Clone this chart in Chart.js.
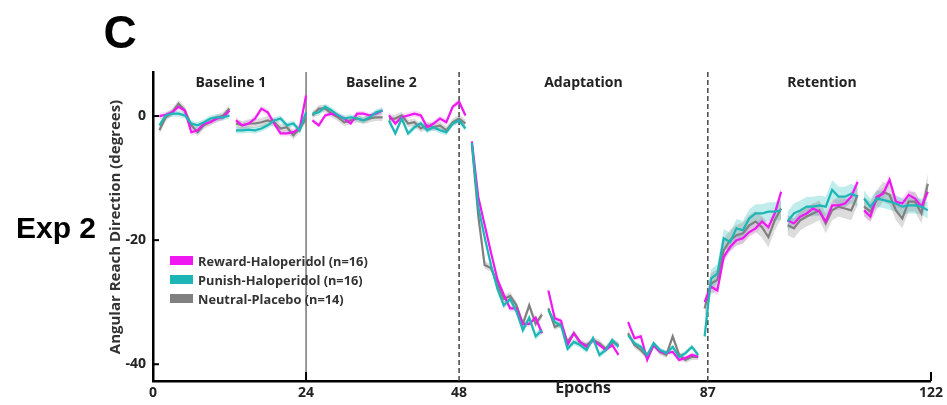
<!DOCTYPE html>
<html>
<head>
<meta charset="utf-8">
<script src="https://cdn.jsdelivr.net/npm/chart.js@4.4.0/dist/chart.umd.min.js"></script>
<style>
  html, body { margin: 0; background: #fff; }
  #wrap { width: 947px; height: 405px; }
</style>
</head>
<body>
<div id="wrap"><canvas id="chart" width="947" height="405"></canvas></div>
<script>
// Epoch of every plotted point; null marks a break between blocks
const epochs = [
  1, 2, 3, 4, 5, 6, 7, 8, 9, 10, 11, 12, null,
  13, 14, 15, 16, 17, 18, 19, 20, 21, 22, 23, 24, null,
  25, 26, 27, 28, 29, 30, 31, 32, 33, 34, 35, 36, null,
  37, 38, 39, 40, 41, 42, 43, 44, 45, 46, 47, 48, 49, null,
  50, 51, 52, 53, 54, 55, 56, 57, 58, 59, 60, 61, null,
  62, 63, 64, 65, 66, 67, 68, 69, 70, 71, 72, 73, null,
  74.5, 75.5, 76.5, 77.5, 78.5, 79.5, 80.5, 81.5, 82.5, 83.5, 84.5, 85.5, null,
  86.5, 87.5, 88.5, 89.5, 90.5, 91.5, 92.5, 93.5, 94.5, 95.5, 96.5, 97.5, 98.5, null,
  99.5, 100.5, 101.5, 102.5, 103.5, 104.5, 105.5, 106.5, 107.5, 108.5, 109.5, 110.5, null,
  111.5, 112.5, 113.5, 114.5, 115.5, 116.5, 117.5, 118.5, 119.5, 120.5, 121.5
];

const reward = [
  0, 0.2, 0.6, 1.5, 0.9, -2.6, -2.3, -1.2, -1.0, -0.4, -0.2, 0.9, null,
  -0.7, -1.5, -1.2, -0.4, 1.2, 0.6, -1.2, -2.8, -2.8, -2.6, -2.0, 3.3, null,
  -0.7, -1.5, 0.1, 0.4, 0.1, -0.4, -1.2, 0.4, 0.4, 0.1, 0.4, 0.9, null,
  0.1, -1.2, -0.2, 0.1, 0.4, 0.1, -1.8, -1.2, -0.4, -1.0, 1.5, 2.3, 0.1, null,
  -4.1, -13, -17.5, -22, -26.3, -28.8, -31, -31, -33.5, -33.5, -32.5, -35, null,
  -28.1, -32.6, -33, -36.9, -35, -36.4, -37.2, -36.1, -36.9, -37.7, -36.9, -38.5, null,
  -33.2, -35.8, -35.5, -39.3, -36.9, -38, -38.2, -38, -39.3, -39, -38.5, -38.8, null,
  -30, -27.5, -28.1, -22.7, -21.1, -20, -19.7, -18.7, -18.1, -17, -17.9, -15.7, -12.2, null,
  -16.8, -17.3, -16.2, -15.7, -14.9, -15.4, -17.0, -14.4, -14.4, -14.1, -13.0, -10.6, null,
  -15.2, -16.2, -13.0, -12.5, -10.3, -13.8, -14.1, -12.7, -13.3, -14.6, -12.2
];

const punish = [
  -1.5, 0.1, 0.4, 0.4, 0.1, -1.2, -1.5, -1.0, -0.4, -0.2, -0.2, 0.1, null,
  -2.3, -2.3, -2.2, -2.3, -2.0, -1.5, -0.7, -0.4, -1.5, -1.2, -2.3, 0.6, null,
  0.4, 0.6, 1.5, 0.9, 0.1, -0.4, -0.2, -0.4, -0.7, -0.2, 0.6, 0.9, null,
  -0.7, -2.8, -0.4, -2.8, -1.8, -1.2, -2.3, -1.8, -2.3, -2.6, -1.2, -0.7, -2.0, null,
  -4.3, -14.6, -19.5, -24, -27.8, -30.5, -29.5, -31.5, -34.5, -32.5, -35.5, -34.5, null,
  -31.3, -33.2, -33.8, -37.5, -36.4, -36.9, -37.7, -35.8, -38.5, -37.7, -36.1, -37.2, null,
  -35.3, -36.6, -37.2, -38.5, -36.6, -37.7, -38.2, -37.2, -38.8, -38.2, -37.2, -38.5, null,
  -35.5, -26.2, -25.4, -19.7, -20.3, -18.1, -18.4, -16.5, -15.7, -15.7, -15.4, -15.4, -15.2, null,
  -17, -15.7, -15.2, -14.6, -14.6, -14.4, -14.6, -11.9, -13, -13, -12.5, -13, null,
  -13.3, -14.6, -13.3, -13.5, -13.8, -14.1, -14.6, -14.4, -14.4, -14.6, -15.2
];

const neutral = [
  -2.3, -0.2, 0.6, 2.0, 0.9, -1.5, -2.6, -1.5, -0.9, -0.4, 0.1, 1.2, null,
  -1.2, -1.5, -1.2, -1.2, -1.0, -0.7, -1.0, -2.0, -1.8, -3.1, -2.0, -0.4, null,
  0.1, 1.2, 1.2, 0.4, -0.2, -1.0, -0.7, -0.4, -0.7, -0.4, -0.2, -0.2, null,
  -0.4, -0.4, 0.1, -1.2, -1.0, -2.0, -1.5, -1.8, -1.5, -2.3, -1.0, -0.4, -1.2, null,
  -4.5, -16, -24, -24.5, -27, -29.5, -29, -30.5, -33.5, -30.5, -33.5, -32, null,
  -31, -34, -33.5, -36.4, -35, -36.6, -36.9, -36.1, -36.6, -37.5, -36.4, -36.9, null,
  -35, -36.9, -37.7, -38.8, -36.9, -38, -38.5, -35.5, -38.5, -39.3, -38.8, -38.8, null,
  -31, -27, -26.4, -21.6, -20, -19.2, -18.9, -17.6, -17, -17.9, -19.5, -16.8, -14.9, null,
  -17.6, -18.1, -16.8, -16.2, -15.7, -15.2, -17.3, -15.2, -14.6, -14.9, -15.2, -12.7, null,
  -14.6, -15.4, -13.5, -12.2, -12.7, -15.2, -16.5, -13.8, -13.8, -15.7, -10.9
];

// Standard error per block (10 blocks)
const rewardSem = [0.5, 0.5, 0.4, 0.5, 0.5, 0.4, 0.4, 0.8, 0.8, 0.9];
const punishSem = [0.5, 0.5, 0.5, 0.5, 0.6, 0.5, 0.4, 1.5, 1.6, 1.3];
const neutralSem = [0.6, 0.7, 0.6, 0.6, 0.6, 0.5, 0.5, 1.7, 1.6, 1.6];

const seriesNames = ['Reward-Haloperidol (n=16)', 'Punish-Haloperidol (n=16)', 'Neutral-Placebo (n=14)'];
const xTicks = [0, 24, 48, 87, 122];
const yTicks = [-40, -20, 0];
const phases = [
  { label: 'Baseline 1', at: 12.2 },
  { label: 'Baseline 2', at: 35.8 },
  { label: 'Adaptation', at: 67.5 },
  { label: 'Retention', at: 104.9 }
];

const MAGENTA = '#f018f0';
const TEAL = '#1db5b5';
const GREY = '#808080';

function toPoints(vals, offset) {
  let seg = 0;
  return epochs.map((x, i) => {
    if (x === null) { seg++; return { x: epochs[i - 1] + 0.5, y: null }; }
    return { x: x, y: vals[i] + (offset ? offset[seg] : 0) };
  });
}

function bandSets(vals, sem, color) {
  const neg = sem.map(v => -v);
  return [
    { data: toPoints(vals, sem), borderWidth: 0, pointRadius: 0, fill: false, order: 10 },
    { data: toPoints(vals, neg), borderWidth: 0, pointRadius: 0, fill: '-1', backgroundColor: color, order: 10 }
  ];
}

function lineSet(label, vals, color, order) {
  return { label: label, data: toPoints(vals), borderColor: color, borderWidth: 2.2,
           pointRadius: 0, tension: 0, fill: false, spanGaps: false, order: order };
}

const datasets = [
  ...bandSets(neutral, neutralSem, 'rgba(128,128,128,0.28)'),
  ...bandSets(punish, punishSem, 'rgba(30,185,185,0.28)'),
  ...bandSets(reward, rewardSem, 'rgba(240,24,240,0.16)'),
  lineSet(seriesNames[2], neutral, GREY, 3),
  lineSet(seriesNames[0], reward, MAGENTA, 2),
  lineSet(seriesNames[1], punish, TEAL, 1)
];

const decorations = {
  id: 'decorations',
  beforeDatasetsDraw(chart) {
    const { ctx, chartArea, scales } = chart;
    const x = scales.x;
    ctx.save();
    // block separators
    ctx.strokeStyle = '#555';
    ctx.lineWidth = 1.2;
    const px24 = x.getPixelForValue(24);
    ctx.beginPath(); ctx.moveTo(px24, chartArea.top); ctx.lineTo(px24, chartArea.bottom); ctx.stroke();
    ctx.strokeStyle = '#444';
    ctx.lineWidth = 1.5;
    ctx.setLineDash([5, 3]);
    [48, 87].forEach(v => {
      const p = x.getPixelForValue(v);
      ctx.beginPath(); ctx.moveTo(p, chartArea.top); ctx.lineTo(p, chartArea.bottom); ctx.stroke();
    });
    ctx.restore();
  },
  afterDraw(chart) {
    const { ctx, chartArea, scales } = chart;
    const x = scales.x, y = scales.y;
    ctx.save();
    // inward ticks
    ctx.strokeStyle = '#000';
    ctx.lineWidth = 2;
    yTicks.forEach(v => {
      const p = y.getPixelForValue(v);
      ctx.beginPath(); ctx.moveTo(chartArea.left, p); ctx.lineTo(chartArea.left + 6, p); ctx.stroke();
    });
    [24, 122].forEach(v => {
      const p = x.getPixelForValue(v);
      ctx.beginPath(); ctx.moveTo(p, chartArea.bottom); ctx.lineTo(p, chartArea.bottom - 9); ctx.stroke();
    });

    ctx.fillStyle = '#222';
    ctx.textAlign = 'center';
    ctx.textBaseline = 'middle';
    ctx.font = 'bold 14px "Open Sans"';
    phases.forEach(ph => ctx.fillText(ph.label, x.getPixelForValue(ph.at), 83));
    ctx.font = 'bold 16px "Open Sans"';
    ctx.fillText('Epochs', 583, 388);

    // y title
    ctx.save();
    ctx.translate(116, 227);
    ctx.rotate(-Math.PI / 2);
    ctx.font = 'bold 15px "Open Sans"';
    ctx.fillStyle = '#333';
    ctx.fillText('Angular Reach Direction (degrees)', 0, 0);
    ctx.restore();

    // panel labels
    ctx.fillStyle = '#000';
    ctx.textBaseline = 'alphabetic';
    ctx.font = 'bold 46px "Liberation Sans"';
    ctx.fillText('C', 120, 48);
    ctx.font = 'bold 30px "Liberation Sans"';
    ctx.fillText('Exp 2', 56, 238);

    // legend
    const items = [[seriesNames[0], MAGENTA], [seriesNames[1], TEAL], [seriesNames[2], GREY]];
    ctx.textAlign = 'left';
    ctx.textBaseline = 'middle';
    ctx.font = 'bold 12.8px "Open Sans"';
    items.forEach((it, i) => {
      const cy = 261 + i * 19;
      ctx.fillStyle = it[1];
      ctx.fillRect(170, cy - 5, 23, 9);
      ctx.fillStyle = '#333';
      ctx.fillText(it[0], 198, cy + 1);
    });
    ctx.restore();
  }
};

new Chart(document.getElementById('chart'), {
  type: 'line',
  data: { datasets: datasets },
  options: {
    responsive: false,
    animation: false,
    devicePixelRatio: 1,
    layout: { padding: { left: 93, top: 72, right: 16, bottom: 0 } },
    plugins: { legend: { display: false }, tooltip: { enabled: false } },
    scales: {
      x: {
        type: 'linear', min: 0, max: 122,
        afterBuildTicks: s => { s.ticks = xTicks.map(v => ({ value: v })); },
        afterFit: s => { s.height = 24; },
        grid: { display: false, drawTicks: false },
        border: { display: true, color: '#000', width: 2.5 },
        ticks: { padding: 4, color: '#222', autoSkip: false, maxRotation: 0,
                 font: { family: 'Open Sans', weight: 'bold', size: 14 } }
      },
      y: {
        min: -42.7, max: 7.1,
        afterBuildTicks: s => { s.ticks = yTicks.map(v => ({ value: v })); },
        afterFit: s => { s.width = 60; },
        grid: { display: false, drawTicks: false },
        border: { display: true, color: '#000', width: 2.5 },
        ticks: { padding: 7, color: '#222',
                 font: { family: 'Open Sans', weight: 'bold', size: 14 } }
      }
    }
  },
  plugins: [decorations]
});
</script>
</body>
</html>
